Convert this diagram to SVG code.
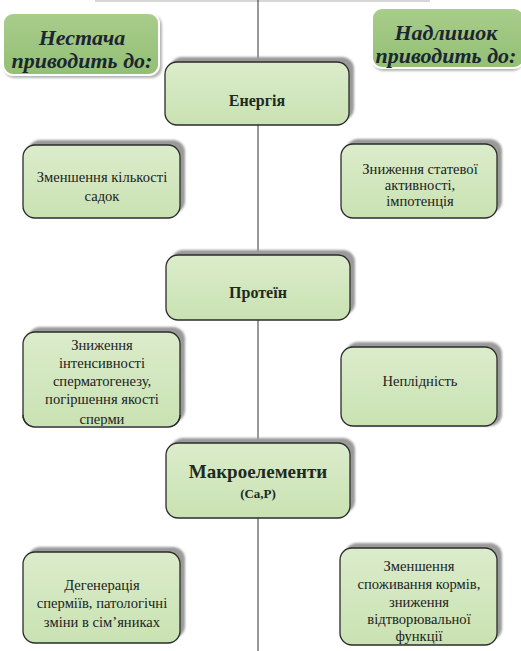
<svg xmlns="http://www.w3.org/2000/svg" width="521" height="651" viewBox="0 0 521 651">
<defs>
<linearGradient id="lg" x1="0" y1="0" x2="0" y2="1">
<stop offset="0" stop-color="#dbeccb"/>
<stop offset="1" stop-color="#c9e2b2"/>
</linearGradient>
<linearGradient id="hg" x1="0" y1="0" x2="0" y2="1">
<stop offset="0" stop-color="#a9cd8c"/>
<stop offset="1" stop-color="#93bf74"/>
</linearGradient>
<filter id="blur" x="-10%" y="-10%" width="120%" height="120%"><feGaussianBlur stdDeviation="1.2"/></filter>
</defs>
<style>
.sh{fill:#9a9a9a;filter:url(#blur)}
.box{fill:url(#lg);stroke:#2b2b2b;stroke-width:1.3}
.hbox{fill:url(#hg);stroke:#ffffff;stroke-width:2}
.hsh{fill:#b5b5b5;filter:url(#blur)}
text{font-family:'Liberation Serif','DejaVu Serif',serif}
.t{font-size:14.6px;fill:#222;text-anchor:middle}
.tb{font-weight:bold;fill:#1e2a1e;text-anchor:middle}
.h{font-weight:bold;font-style:italic;font-size:22px;fill:#1c2630;text-anchor:middle}
</style>
<rect width="521" height="651" fill="#ffffff"/>
<line x1="95" y1="1" x2="430" y2="1" stroke="#d6d6d6" stroke-width="2"/>
<g id="connectors">
<line x1="258" y1="0" x2="258" y2="651" stroke="#333" stroke-width="1"/>
</g>
<g id="header-left">
<rect class="hsh" x="4" y="15" width="158" height="63" rx="10"/>
<rect class="hbox" x="3" y="13" width="156" height="62" rx="10"/>
<text class="h" x="82" y="45">Нестача</text>
<text class="h" x="82" y="68">приводить до:</text>
</g>
<g id="header-right">
<rect class="hsh" x="373" y="10" width="150" height="61" rx="10"/>
<rect class="hbox" x="372" y="8" width="152" height="60" rx="10"/>
<text class="h" x="446" y="40">Надлишок</text>
<text class="h" x="446" y="63">приводить до:</text>
</g>
<g id="energy">
<rect class="sh" x="170" y="57" width="184" height="63" rx="12"/>
<rect class="box" x="165" y="62" width="184" height="63" rx="12"/>
<text class="tb" x="257" y="106" font-size="16">Енергія</text>
</g>
<g id="left1">
<rect class="sh" x="28" y="140" width="157" height="73" rx="12"/>
<rect class="box" x="23" y="145" width="157" height="73" rx="12"/>
<text class="t" x="102" y="182">Зменшення кількості</text>
<text class="t" x="102" y="201">садок</text>
</g>
<g id="right1">
<rect class="sh" x="346" y="139" width="156" height="74" rx="12"/>
<rect class="box" x="341" y="144" width="156" height="74" rx="12"/>
<text class="t" x="420" y="174">Зниження статевої</text>
<text class="t" x="420" y="190">активності,</text>
<text class="t" x="420" y="206">імпотенція</text>
</g>
<g id="protein">
<rect class="sh" x="171" y="250" width="184" height="65" rx="12"/>
<rect class="box" x="166" y="255" width="184" height="65" rx="12"/>
<text class="tb" x="258" y="298" font-size="16">Протеїн</text>
</g>
<g id="left2">
<rect class="sh" x="28" y="327" width="157" height="95" rx="12"/>
<rect class="box" x="23" y="332" width="157" height="95" rx="12"/>
<text class="t" x="102" y="350">Зниження</text>
<text class="t" x="102" y="368">інтенсивності</text>
<text class="t" x="102" y="386">сперматогенезу,</text>
<text class="t" x="102" y="404">погіршення якості</text>
<text class="t" x="102" y="424">сперми</text>
<rect x="24" y="426" width="155" height="6" fill="#ffffff"/>
<path d="M23 415 a12 12 0 0 0 12 12 h133 a12 12 0 0 0 12 -12" fill="none" stroke="#2b2b2b" stroke-width="1.3"/>
</g>
<g id="right2">
<rect class="sh" x="346" y="342" width="156" height="84" rx="12"/>
<rect class="box" x="341" y="347" width="156" height="79" rx="12"/>
<text class="t" x="420" y="386">Неплідність</text>
</g>
<g id="macro">
<rect class="sh" x="171" y="438" width="184" height="75" rx="12"/>
<rect class="box" x="166" y="443" width="184" height="75" rx="12"/>
<text class="tb" x="258" y="478" font-size="19">Макроелементи</text>
<text class="tb" x="258" y="498" font-size="13">(Са,Р)</text>
</g>
<g id="left3">
<rect class="sh" x="28" y="547" width="157" height="91" rx="12"/>
<rect class="box" x="23" y="552" width="157" height="91" rx="12"/>
<text class="t" x="102" y="590">Дегенерація</text>
<text class="t" x="102" y="608">сперміїв, патологічні</text>
<text class="t" x="102" y="627">зміни в сім’яниках</text>
</g>
<g id="right3">
<rect class="sh" x="345" y="543" width="157" height="97" rx="12"/>
<rect class="box" x="340" y="548" width="157" height="97" rx="12"/>
<text class="t" x="419" y="571">Зменшення</text>
<text class="t" x="419" y="589">споживання кормів,</text>
<text class="t" x="419" y="607">зниження</text>
<text class="t" x="419" y="624">відтворювальної</text>
<text class="t" x="419" y="641">функції</text>
</g>
</svg>
